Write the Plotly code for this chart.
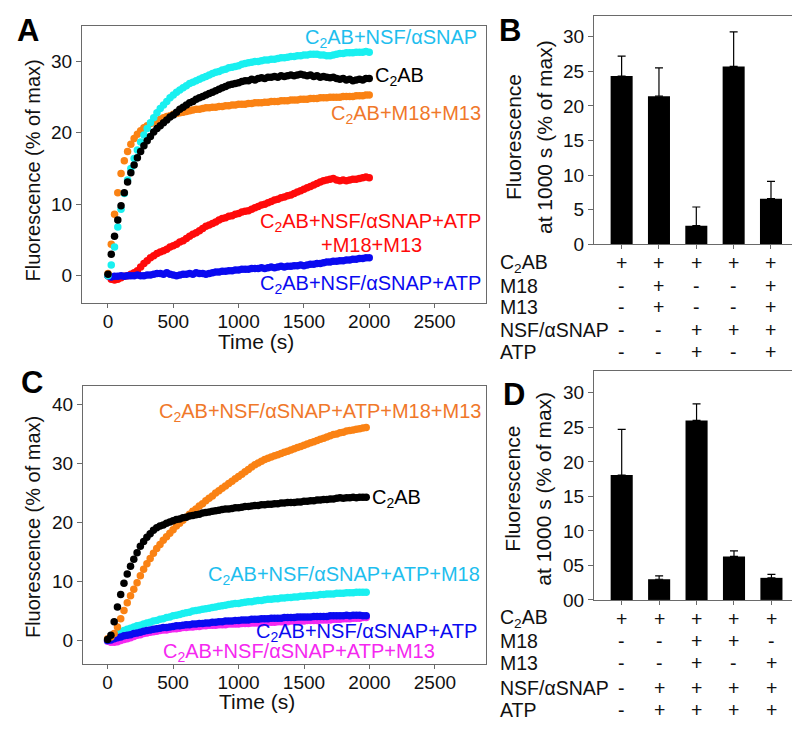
import plotly.graph_objects as go

# ---------------- DATA ----------------
STEP = 25  # s between readings

# Panel A traces (t = 0..2000 s)
A_black = [0.2,3.0,5.5,7.8,9.8,11.6,13.1,14.4,15.5,16.5,
           17.4,18.2,18.9,19.5,20.1,20.6,21.0,21.4,21.8,22.2,
           22.5,22.9,23.3,23.6,23.9,24.2,24.4,24.7,24.9,25.1,
           25.3,25.5,25.7,25.9,26.1,26.3,26.5,26.7,26.8,26.9,
           27.0,27.2,27.3,27.3,27.5,27.4,27.6,27.7,27.6,27.8,
           27.8,27.9,27.8,28.0,27.9,28.0,28.1,28.0,28.1,28.2,
           28.1,28.0,28.1,27.9,28.0,27.8,27.9,27.8,27.7,27.8,
           27.6,27.5,27.6,27.4,27.5,27.3,27.4,27.5,27.4,27.6,
           27.6]
A_cyan = [0.0,1.5,4.0,6.8,9.3,11.5,13.4,15.0,16.4,17.6,
          18.7,19.7,20.6,21.4,22.1,22.8,23.4,23.9,24.4,24.9,
          25.3,25.7,26.0,26.3,26.6,26.9,27.1,27.3,27.5,27.7,
          27.9,28.1,28.3,28.5,28.6,28.8,28.9,29.1,29.2,29.3,
          29.4,29.6,29.7,29.8,29.9,30.0,30.0,30.1,30.2,30.2,
          30.3,30.3,30.4,30.5,30.5,30.6,30.7,30.7,30.8,30.8,
          30.9,30.9,31.0,31.0,31.0,30.9,30.9,30.8,30.8,30.9,
          31.0,31.1,31.1,31.2,31.2,31.2,31.3,31.3,31.3,31.4,
          31.3]
A_orange = [0.3,4.4,8.6,11.6,14.3,16.1,17.4,18.4,19.2,19.8,
            20.3,20.7,21.0,21.3,21.5,21.7,21.9,22.1,22.3,22.4,
            22.6,22.7,22.8,22.9,23.0,23.1,23.2,23.3,23.3,23.4,
            23.5,23.5,23.6,23.6,23.7,23.7,23.8,23.8,23.9,23.9,
            24.0,24.0,24.0,24.1,24.1,24.2,24.2,24.2,24.3,24.3,
            24.4,24.4,24.4,24.5,24.5,24.5,24.6,24.6,24.6,24.7,
            24.7,24.7,24.8,24.8,24.8,24.9,24.9,24.9,25.0,25.0,
            25.0,25.0,25.1,25.1,25.1,25.1,25.2,25.2,25.2,25.3,
            25.3]
A_red = [0.0,-0.5,-0.6,-0.5,-0.3,-0.1,0.0,0.2,0.4,0.7,
         1.2,1.7,2.1,2.5,2.8,3.1,3.3,3.5,3.7,4.0,
         4.2,4.4,4.7,4.9,5.2,5.5,5.8,6.0,6.3,6.6,
         6.9,7.1,7.3,7.5,7.8,8.0,8.1,8.3,8.4,8.6,
         8.7,8.9,9.0,9.1,9.3,9.5,9.7,9.9,10.0,10.2,
         10.4,10.6,10.7,10.9,11.0,11.2,11.3,11.5,11.7,11.9,
         12.1,12.3,12.5,12.7,12.9,13.1,13.3,13.4,13.5,13.6,
         13.4,13.3,13.4,13.3,13.4,13.5,13.5,13.6,13.7,13.8,
         13.7]
A_blue = [0.0,-0.2,-0.1,-0.1,0.0,-0.1,0.0,0.0,0.0,0.1,
          0.0,0.0,0.1,0.1,0.2,0.3,0.3,0.2,0.4,0.2,
          0.1,0.0,0.1,0.2,0.2,0.3,0.2,0.4,0.3,0.3,
          0.2,0.3,0.4,0.5,0.5,0.6,0.6,0.7,0.7,0.8,
          0.8,0.9,0.9,0.9,1.0,1.0,1.0,1.1,1.0,1.1,
          1.2,1.1,1.2,1.3,1.2,1.3,1.3,1.4,1.4,1.5,
          1.4,1.5,1.6,1.6,1.7,1.7,1.8,1.9,1.9,2.0,
          2.0,2.1,2.1,2.2,2.2,2.3,2.3,2.4,2.4,2.5,
          2.5]

# Panel C traces (t = 0..1975 s)
C_black = [0.2,0.9,3.2,5.7,7.8,9.7,11.3,12.6,13.8,14.9,
           16.0,16.8,17.5,18.1,18.7,19.1,19.4,19.6,19.9,20.1,
           20.3,20.5,20.6,20.8,20.9,21.1,21.2,21.3,21.4,21.6,
           21.7,21.8,21.9,22.0,22.1,22.2,22.3,22.3,22.4,22.5,
           22.5,22.6,22.7,22.7,22.8,22.9,22.9,23.0,23.0,23.1,
           23.1,23.2,23.2,23.3,23.3,23.4,23.4,23.4,23.5,23.5,
           23.6,23.6,23.7,23.7,23.8,23.8,23.9,23.9,24.0,24.0,
           24.1,24.2,24.1,24.2,24.2,24.3,24.2,24.3,24.3,24.3]
C_orange = [0.3,0.6,1.2,2.3,3.7,5.1,6.4,7.6,8.7,9.8,
            11.0,12.1,13.0,13.9,14.8,15.6,16.3,17.0,17.6,18.2,
            18.8,19.4,19.9,20.4,20.9,21.4,21.9,22.3,22.8,23.2,
            23.7,24.1,24.5,25.0,25.4,25.8,26.2,26.6,27.0,27.4,
            27.8,28.2,28.6,29.0,29.4,29.8,30.1,30.4,30.7,30.9,
            31.1,31.3,31.5,31.7,31.9,32.1,32.3,32.5,32.7,32.9,
            33.1,33.3,33.5,33.7,33.9,34.1,34.3,34.5,34.7,34.9,
            35.0,35.2,35.3,35.5,35.6,35.7,35.8,35.9,36.0,36.1]
C_cyan = [0.0,0.5,0.9,1.2,1.5,1.7,1.9,2.1,2.3,2.5,
          2.6,2.8,3.0,3.1,3.3,3.4,3.6,3.7,3.9,4.0,
          4.2,4.3,4.4,4.6,4.7,4.8,5.0,5.1,5.2,5.3,
          5.4,5.5,5.6,5.7,5.8,5.9,6.0,6.1,6.2,6.3,
          6.3,6.4,6.5,6.6,6.6,6.7,6.8,6.8,6.9,7.0,
          7.0,7.1,7.1,7.2,7.2,7.3,7.3,7.4,7.4,7.5,
          7.5,7.6,7.6,7.7,7.7,7.8,7.8,7.9,7.9,7.9,
          8.0,8.0,8.0,8.1,8.1,8.1,8.2,8.2,8.2,8.2]
C_blue = [0.0,0.1,0.3,0.5,0.6,0.8,0.9,1.0,1.2,1.3,
          1.4,1.6,1.7,1.8,1.9,2.0,2.1,2.2,2.2,2.3,
          2.4,2.5,2.5,2.6,2.7,2.7,2.8,2.8,2.9,2.9,
          3.0,3.0,3.1,3.1,3.2,3.2,3.3,3.3,3.3,3.4,
          3.4,3.5,3.5,3.5,3.6,3.6,3.6,3.7,3.7,3.7,
          3.8,3.8,3.8,3.8,3.9,3.9,3.9,3.9,4.0,4.0,
          4.0,4.0,4.0,4.1,4.1,4.1,4.1,4.1,4.2,4.2,
          4.2,4.2,4.2,4.3,4.2,4.3,4.3,4.3,4.2,4.2]
C_magenta = [-0.1,-0.3,-0.3,-0.2,0.0,0.2,0.3,0.5,0.7,0.9,
             1.0,1.2,1.3,1.4,1.5,1.6,1.7,1.8,1.8,1.9,
             2.0,2.0,2.1,2.2,2.2,2.3,2.3,2.4,2.4,2.5,
             2.5,2.6,2.6,2.6,2.7,2.7,2.7,2.8,2.8,2.8,
             2.8,2.9,2.9,2.9,3.0,3.0,3.0,3.0,3.1,3.1,
             3.1,3.1,3.2,3.2,3.2,3.2,3.3,3.3,3.3,3.3,
             3.3,3.4,3.4,3.4,3.4,3.5,3.5,3.5,3.5,3.6,
             3.6,3.6,3.7,3.7,3.7,3.8,3.8,3.8,3.9,3.9]

# Panel B bars
B_values = [24.3, 21.4, 2.7, 25.7, 6.6]
B_err = [2.9, 4.1, 2.7, 5.0, 2.5]
B_rows = ["C<sub>2</sub>AB", "M18", "M13", "NSF/\u03b1SNAP", "ATP"]
B_table = [["+", "+", "+", "+", "+"],
           ["-", "+", "-", "-", "+"],
           ["-", "+", "-", "-", "+"],
           ["-", "-", "+", "+", "+"],
           ["-", "-", "+", "-", "+"]]

# Panel D bars
D_values = [18.1, 3.0, 26.0, 6.3, 3.2]
D_err = [6.6, 0.5, 2.4, 0.8, 0.5]
D_rows = ["C<sub>2</sub>AB", "M18", "M13", "NSF/\u03b1SNAP", "ATP"]
D_table = [["+", "+", "+", "+", "+"],
           ["-", "-", "+", "+", "-"],
           ["-", "-", "+", "-", "+"],
           ["-", "+", "+", "+", "+"],
           ["-", "+", "+", "+", "+"]]
D_ticktext = ["00", "05", "10", "15", "20", "25", "30"]
D_tickvals = [0, 5, 10, 15, 20, 25, 30]

# ---------------- STYLE ----------------
W, H = 800, 730
FONT = "Liberation Sans, Arial, sans-serif"
CYAN, CYAN_T = "#19F0F0", "#1EBEEE"
ORANGE, ORANGE_T = "#FA8214", "#F0782A"
RED = "#FF0A0A"
BLUE = "#0A0AF0"
MAGENTA = "#F528F0"
BLACK = "#000000"
FRAME = "#6a6a6a"
LABEL_SIZE = 20


def px(x):
    return x / W


def py(y):
    return 1 - y / H


def times(vals):
    return [i * STEP for i in range(len(vals))]


fig = go.Figure()


def scatter(vals, color, xa, ya):
    fig.add_trace(go.Scatter(x=times(vals), y=vals, mode="markers",
                             marker=dict(color=color, size=7.5, line=dict(width=0)),
                             xaxis=xa, yaxis=ya, showlegend=False, hoverinfo="skip"))


# Panel A (drawing order bottom->top)
scatter(A_red, RED, "x", "y")
scatter(A_blue, BLUE, "x", "y")
scatter(A_orange, ORANGE, "x", "y")
scatter(A_cyan, CYAN, "x", "y")
scatter(A_black, BLACK, "x", "y")

# Panel C
scatter(C_magenta, MAGENTA, "x3", "y3")
scatter(C_cyan, CYAN, "x3", "y3")
scatter(C_blue, BLUE, "x3", "y3")
scatter(C_orange, ORANGE, "x3", "y3")
scatter(C_black, BLACK, "x3", "y3")


def bars(vals, errs, xa, ya):
    fig.add_trace(go.Bar(x=list(range(len(vals))), y=vals, width=0.59,
                         marker=dict(color=BLACK, line=dict(width=0)),
                         error_y=dict(type="data", symmetric=False, array=errs,
                                      arrayminus=[0] * len(errs), color=BLACK,
                                      thickness=1.2, width=4),
                         xaxis=xa, yaxis=ya, showlegend=False, hoverinfo="skip"))


bars(B_values, B_err, "x2", "y2")
bars(D_values, D_err, "x4", "y4")

tickfont = dict(family=FONT, size=19, color="#111")
common = dict(showline=True, linecolor=FRAME, linewidth=1, mirror=True,
              showgrid=False, zeroline=False, ticks="outside",
              tickcolor=FRAME, tickfont=tickfont)

layout = dict(
    width=W, height=H, margin=dict(l=0, r=0, t=0, b=0),
    paper_bgcolor="white", plot_bgcolor="white", showlegend=False,
    font=dict(family=FONT, color="#111"),
    xaxis=dict(domain=[px(74), px(478)], range=[-199, 2894], anchor="y",
               tickvals=[0, 500, 1000, 1500, 2000, 2500], ticklen=4,
               ticklabelstandoff=-3, **common),
    yaxis=dict(domain=[py(300), py(18)], range=[-3.9, 35.0], anchor="x",
               tickvals=[0, 10, 20, 30], ticklen=5, **common),
    xaxis2=dict(domain=[px(586), px(791)], range=[-0.74, 4.75], anchor="y2",
                tickvals=[0, 1, 2, 3, 4], showticklabels=False, ticklen=4, **common),
    yaxis2=dict(domain=[py(240), py(8)], range=[0, 33.0], anchor="x2",
                tickvals=[0, 5, 10, 15, 20, 25, 30], ticklen=5, **common),
    xaxis3=dict(domain=[px(75), px(478)], range=[-188, 2890], anchor="y3",
                tickvals=[0, 500, 1000, 1500, 2000, 2500], ticklen=4,
                ticklabelstandoff=-3, **common),
    yaxis3=dict(domain=[py(666), py(384)], range=[-3.96, 43.1], anchor="x3",
                tickvals=[0, 10, 20, 30, 40], ticklen=5, **common),
    xaxis4=dict(domain=[px(586), px(791.5)], range=[-0.74, 4.75], anchor="y4",
                tickvals=[0, 1, 2, 3, 4], showticklabels=False, ticklen=4, **common),
    yaxis4=dict(domain=[py(601), py(369)], range=[0, 33.1], anchor="x4",
                tickvals=D_tickvals, ticktext=D_ticktext, ticklen=5, **common),
)
fig.update_layout(**layout)

ann = []


def note(text, x, y, color="#111", size=LABEL_SIZE, xanchor="center", yanchor="middle",
         angle=0, bold=False, xref="paper", yref="paper"):
    if bold:
        text = "<b>" + text + "</b>"
    ann.append(dict(text=text, x=x, y=y, xref=xref, yref=yref, showarrow=False,
                    xanchor=xanchor, yanchor=yanchor, textangle=angle, borderpad=0,
                    font=dict(family=FONT, size=size, color=color)))


# panel letters
note("A", px(20), py(23), size=31, bold=True, color="#000")
note("B", px(502), py(23), size=31, bold=True, color="#000")
note("C", px(24), py(380), size=31, bold=True, color="#000")
note("D", px(506), py(392), size=31, bold=True, color="#000")

# axis titles
note("Fluorescence (% of max)", px(25), py(165), size=20, angle=-90)
note("Time (s)", px(248), py(339), size=21)
note("Fluorescence (% of max)", px(25), py(527), size=20, angle=-90)
note("Time (s)", px(249), py(704), size=21)
note("Fluorescence", px(505), py(131), size=21, angle=-90)
note("at 1000 s (% of max)", px(536), py(131), size=21, angle=-90)
note("Fluorescence", px(505), py(488), size=21, angle=-90)
note("at 1000 s (% of max)", px(536), py(488), size=21, angle=-90)

# curve labels, panel A
note("C<sub>2</sub>AB+NSF/\u03b1SNAP", px(470), py(31), color=CYAN_T, xanchor="right")
note("C<sub>2</sub>AB", px(366), py(70), color="#000", xanchor="left")
note("C<sub>2</sub>AB+M18+M13", px(474), py(108), color=ORANGE_T, xanchor="right")
note("C<sub>2</sub>AB+NSF/\u03b1SNAP+ATP", px(474), py(218), color=RED, xanchor="right")
note("+M18+M13", px(415), py(241), color=RED, xanchor="right")
note("C<sub>2</sub>AB+NSF/\u03b1SNAP+ATP", px(474), py(281), color=BLUE, xanchor="right")

# curve labels, panel C
note("C<sub>2</sub>AB+NSF/\u03b1SNAP+ATP+M18+M13", px(474), py(411), color=ORANGE_T, xanchor="right")
note("C<sub>2</sub>AB", px(363), py(498), color="#000", xanchor="left")
note("C<sub>2</sub>AB+NSF/\u03b1SNAP+ATP+M18", px(473), py(576), color=CYAN_T, xanchor="right")
note("C<sub>2</sub>AB+NSF/\u03b1SNAP+ATP", px(470), py(634), color=BLUE, xanchor="right")
note("C<sub>2</sub>AB+NSF/\u03b1SNAP+ATP+M13", px(428), py(654), color=MAGENTA, xanchor="right")

# condition tables
B_row_y = [259, 282, 304, 327, 349]
D_row_y = [620, 643, 665, 690, 713]
for rows, table, row_y, xref in ((B_rows, B_table, B_row_y, "x2"),
                                 (D_rows, D_table, D_row_y, "x4")):
    for r, label in enumerate(rows):
        note(label, px(491), py(row_y[r]), xanchor="left", size=19.5)
        for c, sym in enumerate(table[r]):
            note(sym, c, py(row_y[r]), xref=xref, size=19.5)

fig.update_layout(annotations=ann)
fig.write_html("out.html")
